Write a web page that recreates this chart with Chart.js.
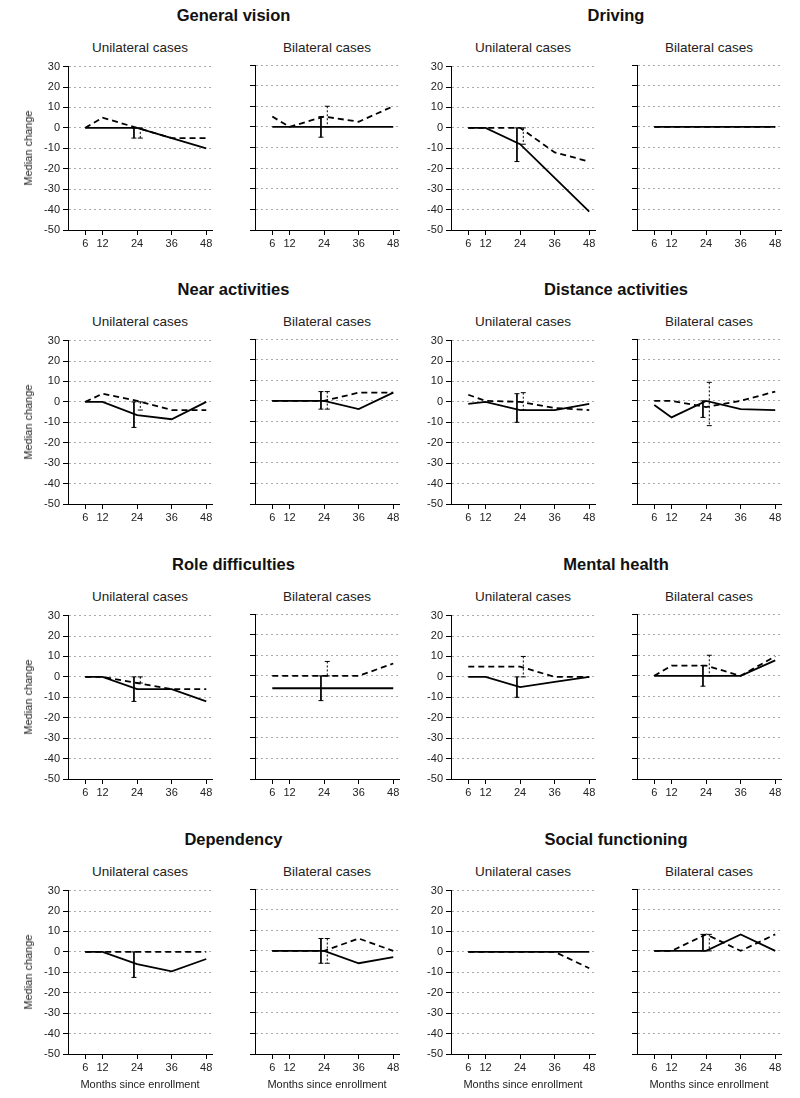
<!DOCTYPE html>
<html>
<head>
<meta charset="utf-8">
<title>Median change since enrollment</title>
<script src="https://cdn.jsdelivr.net/npm/chart.js@4.4.0/dist/chart.umd.min.js"></script>
<style>
  body { margin: 0; background: #fff; }
  #fig { position: relative; width: 800px; height: 1098px; font-family: "Liberation Sans", Arial, sans-serif; color: #111; }
  #fig canvas { position: absolute; }
  .lbl { position: absolute; white-space: nowrap; transform: translate(-50%, -50%); }
  .title { font-size: 16.5px; font-weight: bold; }
  .sub { font-size: 13.5px; color: #222; }
  .axis { font-size: 11px; color: #222; }
  .ytitle { transform: translate(-50%, -50%) rotate(-90deg); }
</style>
</head>
<body>
<div id="fig"></div>
<script>
(function () {
    "use strict";

    // x positions (months since enrollment)
    const months = [6, 12, 24, 36, 48];
    const xTicks = [6, 12, 24, 36, 48];
    const yMin = -50, yMax = 30, yStep = 10;

    const domainTitles = ["General vision", "Driving", "Near activities", "Distance activities",
        "Role difficulties", "Mental health", "Dependency", "Social functioning"];
    const caseLabels = ["Unilateral cases", "Bilateral cases"];
    const yAxisLabel = "Median change";
    const xAxisLabel = "Months since enrollment";

    // medians per month; bars = spread at 24 months [solid hi, solid lo, dashed hi, dashed lo]
    const visionUniSolid = [0, 0, 0, -5, -10];
    const visionUniDashed = [0, 5, 0, -5, -5];
    const visionUniBars = [0, -5, 0, -5];
    const visionBiSolid = [0, 0, 0, 0, 0];
    const visionBiDashed = [5, 0, 5, 2.5, 10];
    const visionBiBars = [5, -5, 10, 0];

    const drivingUniSolid = [0, 0, -8, -24.5, -41];
    const drivingUniDashed = [0, 0, 0, -12, -16.5];
    const drivingUniBars = [0, -16.5, 0, -8];
    const drivingBiSolid = [0, 0, 0, 0, 0];
    const drivingBiDashed = [0, 0, 0, 0, 0];
    const drivingBiBars = [0, 0, 0, 0];

    const nearUniSolid = [0, 0, -6.5, -8.5, 0];
    const nearUniDashed = [0, 4, 0.5, -4, -4];
    const nearUniBars = [0, -12.5, 0, -4];
    const nearBiSolid = [0, 0, 0, -4, 4];
    const nearBiDashed = [0, 0, 0, 4, 4];
    const nearBiBars = [4.5, -4, 4.5, -4];

    const distUniSolid = [-1, 0, -4, -4, -1];
    const distUniDashed = [3.5, 0.5, 0, -3, -4];
    const distUniBars = [4, -10, 4.5, -4];
    const distBiSolid = [-2, -8, 0, -4, -4.5];
    const distBiDashed = [0, 0, -3, 0, 4.5];
    const distBiBars = [0, -8, 9, -12];

    const roleUniSolid = [0, 0, -6, -6, -12];
    const roleUniDashed = [0, 0, -3, -6, -6];
    const roleUniBars = [0, -12, 0, -3];
    const roleBiSolid = [-6, -6, -6, -6, -6];
    const roleBiDashed = [0, 0, 0, 0, 6];
    const roleBiBars = [0, -12, 7, 0];

    const mentalUniSolid = [0, 0, -5, -2.5, 0];
    const mentalUniDashed = [5, 5, 5, 0, 0];
    const mentalUniBars = [0, -10, 10, 0];
    const mentalBiSolid = [0, 0, 0, 0, 7.5];
    const mentalBiDashed = [0, 5, 5, 0, 9.5];
    const mentalBiBars = [5, -5, 10, 0];

    const depUniSolid = [0, 0, -6, -9.5, -3.5];
    const depUniDashed = [0, 0, 0, 0, 0];
    const depUniBars = [0, -12.5, 0, 0];
    const depBiSolid = [0, 0, 0, -6, -3];
    const depBiDashed = [0, 0, 0, 6, 0];
    const depBiBars = [6, -6, 6, -6];

    const socialUniSolid = [0, 0, 0, 0, 0];
    const socialUniDashed = [0, 0, 0, 0, -8];
    const socialUniBars = [0, 0, 0, 0];
    const socialBiSolid = [0, 0, 0, 8, 0];
    const socialBiDashed = [0, 0, 8, 0, 8];
    const socialBiBars = [8, 0, 8, 0];

    const domains = [
        [[visionUniSolid, visionUniDashed, visionUniBars], [visionBiSolid, visionBiDashed, visionBiBars]],
        [[drivingUniSolid, drivingUniDashed, drivingUniBars], [drivingBiSolid, drivingBiDashed, drivingBiBars]],
        [[nearUniSolid, nearUniDashed, nearUniBars], [nearBiSolid, nearBiDashed, nearBiBars]],
        [[distUniSolid, distUniDashed, distUniBars], [distBiSolid, distBiDashed, distBiBars]],
        [[roleUniSolid, roleUniDashed, roleUniBars], [roleBiSolid, roleBiDashed, roleBiBars]],
        [[mentalUniSolid, mentalUniDashed, mentalUniBars], [mentalBiSolid, mentalBiDashed, mentalBiBars]],
        [[depUniSolid, depUniDashed, depUniBars], [depBiSolid, depBiDashed, depBiBars]],
        [[socialUniSolid, socialUniDashed, socialUniBars], [socialBiSolid, socialBiDashed, socialBiBars]]
    ];

    // layout (pixels)
    const rowTop = [65, 339, 614, 889];
    const groupAxis = [[68, 255], [451, 637]];
    const plotW = 144, plotH = 165;
    const padL = 45, padT = 8, padR = 12, padB = 30;
    const barShift = 1.1;

    const fig = document.getElementById("fig");
    const font = "'Liberation Sans', Arial, sans-serif";

    function addText(text, x, y, cls) {
        const d = document.createElement("div");
        d.className = "lbl " + cls;
        d.style.left = x + "px";
        d.style.top = y + "px";
        d.textContent = text;
        fig.appendChild(d);
    }

    function toPoints(values) {
        return months.map(function (m, i) { return { x: m, y: values[i] }; });
    }

    function errorBar(x, hi, lo, dash) {
        return {
            data: [{ x: x, y: hi }, { x: x, y: lo }],
            borderColor: "#000",
            borderWidth: 1,
            borderDash: dash,
            pointStyle: "line",
            pointRadius: 2.5,
            pointHoverRadius: 0,
            pointBorderWidth: 1,
            pointBorderColor: "#000"
        };
    }

    function drawPanel(axisX, top, series, showLabels) {
        const solid = series[0], dashed = series[1], bars = series[2];
        const canvas = document.createElement("canvas");
        canvas.width = padL + plotW + padR;
        canvas.height = padT + plotH + padB;
        canvas.style.left = (axisX - padL) + "px";
        canvas.style.top = (top - padT) + "px";
        fig.appendChild(canvas);

        const datasets = [];
        if (bars[0] !== bars[1]) datasets.push(errorBar(barMonth - barShift, bars[0], bars[1], []));
        if (bars[2] !== bars[3]) datasets.push(errorBar(barMonth + barShift, bars[2], bars[3], [2, 2]));
        datasets.push({ data: toPoints(solid), borderColor: "#000", borderWidth: 1.8, pointRadius: 0, pointHoverRadius: 0 });
        datasets.push({ data: toPoints(dashed), borderColor: "#000", borderWidth: 1.8, borderDash: [6, 4], pointRadius: 0, pointHoverRadius: 0 });

        new Chart(canvas, {
            type: "line",
            data: { datasets: datasets },
            options: {
                responsive: false,
                animation: false,
                events: [],
                layout: { padding: { top: padT, right: padR, left: 0, bottom: 0 } },
                plugins: { legend: { display: false }, tooltip: { enabled: false } },
                scales: {
                    x: {
                        type: "linear",
                        min: 0,
                        max: 50,
                        afterBuildTicks: function (s) { s.ticks = xTicks.map(function (v) { return { value: v }; }); },
                        afterFit: function (s) { s.height = padB; },
                        grid: { drawOnChartArea: false, tickLength: 5, tickColor: "#000" },
                        border: { color: "#000", width: 1 },
                        ticks: { color: "#222", padding: 2, maxRotation: 0, autoSkip: false, font: { family: font, size: 11 } }
                    },
                    y: {
                        min: yMin,
                        max: yMax,
                        afterFit: function (s) { s.width = padL; },
                        grid: { color: "#aaa", lineWidth: 1, tickLength: 5, tickColor: "#000" },
                        border: { color: "#000", width: 1, dash: [2, 3] },
                        ticks: { stepSize: yStep, display: showLabels, color: "#222", padding: 3, font: { family: font, size: 11 } }
                    }
                }
            }
        });
    }

    const barMonth = 24;

    domains.forEach(function (panels, d) {
        const row = Math.floor(d / 2), col = d % 2;
        const top = rowTop[row];
        const axes = groupAxis[col];

        addText(domainTitles[d], (axes[0] + axes[1] + plotW) / 2, top - 50, "title");

        panels.forEach(function (series, p) {
            const axisX = axes[p];
            addText(caseLabels[p], axisX + plotW / 2, top - 18, "sub");
            drawPanel(axisX, top, series, p === 0);
            if (row === 3) addText(xAxisLabel, axisX + plotW / 2, top + plotH + 30, "axis");
        });

        if (col === 0) addText(yAxisLabel, 28, top + plotH / 2, "axis ytitle");
    });
})();
</script>
</body>
</html>
